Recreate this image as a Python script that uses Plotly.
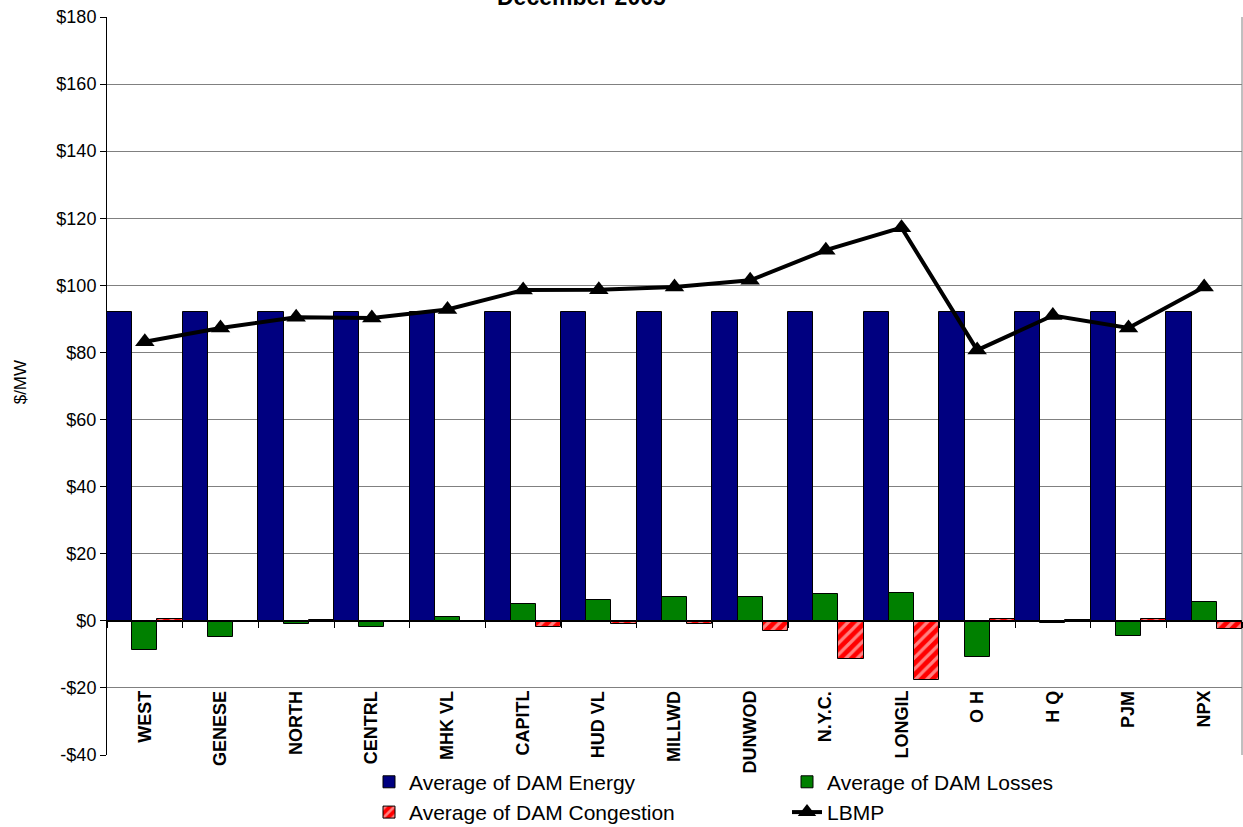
import plotly.graph_objects as go

# zones and monthly averages ($/MW)
zones = ["WEST", "GENESE", "NORTH", "CENTRL", "MHK VL", "CAPITL", "HUD VL", "MILLWD",
         "DUNWOD", "N.Y.C.", "LONGIL", "O H", "H Q", "PJM", "NPX"]
dam_energy = [92.0, 92.0, 92.0, 92.0, 92.0, 92.0, 92.0, 92.0,
              92.0, 92.0, 92.0, 92.0, 92.0, 92.0, 92.0]
dam_losses = [-8.6, -4.7, -1.0, -1.8, 1.0, 5.0, 6.2, 7.2,
              7.0, 7.9, 8.2, -10.7, -0.7, -4.4, 5.5]
dam_congestion = [0.5, -0.1, 0.3, -0.1, -0.1, -1.9, -0.9, -0.8,
                  -2.9, -11.4, -17.7, 0.6, 0.1, 0.4, -2.3]
lbmp = [83.2, 87.3, 90.5, 90.3, 92.8, 98.6, 98.7, 99.5,
        101.5, 110.5, 117.2, 80.7, 91.0, 87.3, 99.5]

y_ticks = [-40, -20, 0, 20, 40, 60, 80, 100, 120, 140, 160, 180]
y_labels = ["-$40", "-$20", "$0", "$20", "$40", "$60", "$80", "$100",
            "$120", "$140", "$160", "$180"]

FONT = "Arial, Liberation Sans, sans-serif"
edge = dict(color="black", width=1)

W, H = 1243, 827
ML, MT, MB = 107, 17, 72
PW = W - ML - 1

fig = go.Figure()
fig.add_trace(go.Bar(x=zones, y=dam_energy, name="Average of DAM Energy",
                     marker=dict(color="#000080", line=edge)))
fig.add_trace(go.Bar(x=zones, y=dam_losses, name="Average of DAM Losses",
                     marker=dict(color="#008000", line=edge)))
fig.add_trace(go.Bar(x=zones, y=dam_congestion, name="Average of DAM Congestion",
                     marker=dict(color="#FF0000", line=edge,
                                 pattern=dict(shape="/", fgcolor="white", fillmode="overlay",
                                              size=8, solidity=0.4))))
fig.add_trace(go.Scatter(x=zones, y=lbmp, name="LBMP", mode="lines+markers",
                         line=dict(color="black", width=4),
                         marker=dict(symbol="triangle-up", size=17, color="black")))

# zone labels sit under the -$20 gridline, rotated
for z in zones:
    fig.add_annotation(x=z, y=-20, text=z, textangle=-90, showarrow=False,
                       xanchor="center", yanchor="top", yshift=-1,
                       font=dict(family=FONT, size=18, color="black", weight="bold"))

fig.add_annotation(xref="paper", yref="paper", x=-87 / PW, y=0.505, text="$/MW",
                   textangle=-90, showarrow=False, xanchor="center", yanchor="middle",
                   font=dict(family="Liberation Sans Narrow, Arial Narrow, Arial", size=17, color="black"))

# title: mostly above the page edge, as in the source
fig.add_annotation(xref="paper", yref="paper", x=(581 - 107) / PW, y=1.007,
                   xanchor="center", yanchor="bottom", showarrow=False,
                   text="<b>December 2005</b>",
                   font=dict(family=FONT, size=23, color="black"))

fig.add_shape(type="line", xref="paper", yref="paper", x0=1, x1=1, y0=0, y1=1,
              line=dict(color="#808080", width=1), layer="below")

fig.update_layout(
    width=W, height=H,
    paper_bgcolor="white", plot_bgcolor="white",
    barmode="group", bargap=0, bargroupgap=0,
    margin=dict(l=ML, r=1, t=MT, b=MB, autoexpand=False),
    font=dict(family=FONT, color="black"),
    xaxis=dict(type="category", range=[-0.5, 14.5], anchor="free",
               position=40 / 220, showline=True, linecolor="black", linewidth=1,
               ticks="outside", tickson="boundaries", ticklen=6, tickcolor="black",
               showticklabels=False, showgrid=False, zeroline=False),
    yaxis=dict(range=[-40, 180], tickvals=y_ticks, ticktext=y_labels,
               showgrid=True, gridcolor="#808080", gridwidth=1, zeroline=False,
               showline=True, linecolor="black", linewidth=1,
               ticks="outside", ticklen=6, tickcolor="black", ticklabeloverflow="allow",
               tickfont=dict(family=FONT, size=18, color="black")),
    legend=dict(orientation="h", x=(369 - 107) / PW, xanchor="left", y=-0.009, yanchor="top",
                entrywidth=373, entrywidthmode="pixels", traceorder="normal",
                font=dict(family=FONT, size=21, color="black"),
                bgcolor="rgba(0,0,0,0)", tracegroupgap=0),
)

# drop the default page margin so the figure fills the window from its corner
fig.write_html("out.html", config={"displayModeBar": False},
               post_script="document.body.style.margin='0';")
